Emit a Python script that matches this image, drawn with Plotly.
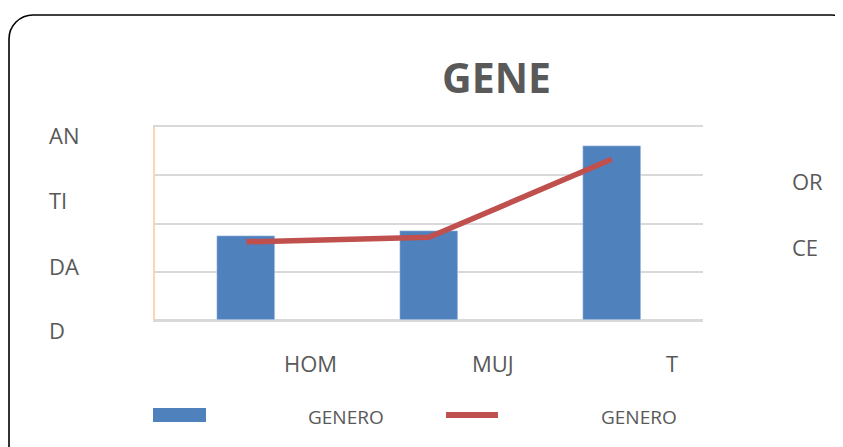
import plotly.graph_objects as go

# ---- data ----
categories = ["HOMBRES", "MUJERES", "TOTAL"]
tick_labels = ["HOM", "MUJ", "T"]
cantidad = [35, 37, 72]
porcentaje = [48.6, 51.4, 100.0]
title_text = "GENE"
left_title_parts = ["AN", "TI", "DA", "D"]
right_title_parts = ["OR", "CE"]
legend_labels = ["GENERO", "GENERO"]

BAR_COLOR = "#4F81BD"
LINE_COLOR = "#C0504D"
TEXT_COLOR = "#595959"
FONT = "Open Sans"

W, H = 843, 447
OFF = 8  # page body margin
L, R, T, B = 155 - OFF, 703 - OFF, 127 - OFF, 320 - OFF  # plot area in figure pixels


def px(x):
    return (x - OFF - L) / (R - L)


def py(y):
    return (B - (y - OFF)) / (B - T)


fig = go.Figure()
fig.add_trace(go.Bar(x=categories, y=cantidad, marker_color=BAR_COLOR,
                     width=0.317, name=legend_labels[0], showlegend=False))
fig.add_trace(go.Scatter(x=categories, y=porcentaje, yaxis="y2", mode="lines",
                         line=dict(color=LINE_COLOR, width=5.5),
                         name=legend_labels[1], showlegend=False))

annotations = []
# title
annotations.append(dict(x=px(496), y=py(77), xref="paper", yref="paper",
                        text=f"<b>{title_text}</b>", showarrow=False,
                        font=dict(family=FONT, size=41, color=TEXT_COLOR),
                        xanchor="center", yanchor="middle"))
# left truncated axis title
for txt, yy in zip(left_title_parts, [135, 200, 266, 330]):
    annotations.append(dict(x=px(47), y=py(yy), xref="paper", yref="paper",
                            text=txt, showarrow=False, xanchor="left", yanchor="middle",
                            font=dict(family=FONT, size=22, color=TEXT_COLOR)))
# right truncated axis title
for txt, xx, yy in zip(right_title_parts, [790, 790], [181, 247]):
    annotations.append(dict(x=px(xx), y=py(yy), xref="paper", yref="paper",
                            text=txt, showarrow=False, xanchor="left", yanchor="middle",
                            font=dict(family=FONT, size=22, color=TEXT_COLOR)))
# category labels (offset, truncated)
for cat, lab, shift in zip(categories, tick_labels, [64, 64, 60]):
    annotations.append(dict(x=cat, y=py(363), xref="x", yref="paper",
                            text=lab, showarrow=False, xanchor="center", yanchor="middle",
                            xshift=shift,
                            font=dict(family=FONT, size=22, color=TEXT_COLOR)))
# legend texts
for lab, xx in zip(legend_labels, [346, 639]):
    annotations.append(dict(x=px(xx), y=py(417), xref="paper", yref="paper",
                            text=lab, showarrow=False, xanchor="center", yanchor="middle",
                            font=dict(family=FONT, size=19, color=TEXT_COLOR)))

# rounded border
k = 0.5523 * 24
border = (f"M {px(9)},{py(480)} L {px(9)},{py(39)} "
          f"C {px(9)},{py(39 - k)} {px(33 - k)},{py(15)} {px(33)},{py(15)} "
          f"L {px(831)},{py(15)} "
          f"C {px(831 + k)},{py(15)} {px(855)},{py(39 - k)} {px(855)},{py(39)} "
          f"L {px(855)},{py(480)}")
shapes = [
    dict(type="path", path=border, xref="paper", yref="paper",
         line=dict(color="#000000", width=1.6), layer="above"),
    dict(type="rect", x0=px(153), x1=px(206), y0=py(408), y1=py(422),
         xref="paper", yref="paper", fillcolor=BAR_COLOR, line=dict(width=0)),
    dict(type="line", x0=px(446), x1=px(498), y0=py(415), y1=py(415),
         xref="paper", yref="paper", line=dict(color=LINE_COLOR, width=6)),
]

fig.update_layout(
    width=W, height=H,
    margin=dict(l=L, r=W - R, t=T, b=H - B, pad=0),
    paper_bgcolor="white", plot_bgcolor="white",
    showlegend=False,
    bargap=0,
    xaxis=dict(type="category", range=[-0.5, 2.5], showticklabels=False,
               showgrid=False, showline=True, mirror=True, linecolor="#D9D9D9",
               linewidth=2, zeroline=False, ticks=""),
    yaxis=dict(range=[0, 80], dtick=20, showticklabels=False, ticks="",
               showgrid=True, gridcolor="#D9D9D9", gridwidth=2,
               showline=True, linecolor="#FCD5B4", linewidth=2,
               zeroline=True, zerolinecolor="#D9D9D9", zerolinewidth=2),
    yaxis2=dict(range=[0, 120], overlaying="y", side="right",
                showticklabels=False, showgrid=False, zeroline=False,
                showline=False, ticks=""),
    annotations=annotations,
    shapes=shapes,
)

fig.write_html("out.html")
